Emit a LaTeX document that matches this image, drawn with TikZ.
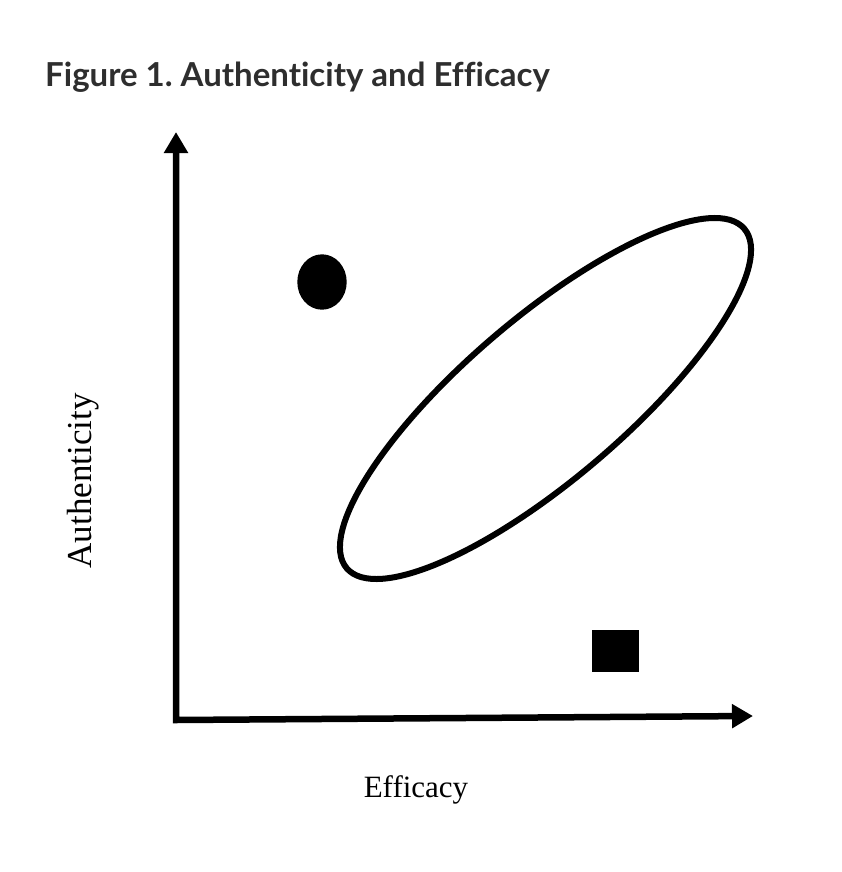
\documentclass[tikz,border=0pt]{standalone}
\usepackage{fontspec}
\setmainfont{Liberation Serif}
\newfontfamily\titlefont[Ligatures=NoCommon]{Lato}
\usepackage{xcolor}
\usetikzlibrary{arrows.meta}
\frenchspacing
\definecolor{ink}{HTML}{000000}
\definecolor{heading}{HTML}{2E2E2E}
\tikzset{
  axis/.style={draw=ink, line width=6.5pt, line join=miter,
    {Triangle[length=21pt,width=23pt]}-{Triangle[length=21pt,width=23pt]}},
  ring/.style={draw=ink, line width=6pt},
  blob/.style={fill=ink},
  lab/.style={text=ink, font=\fontsize{31}{36}\selectfont, inner sep=0pt},
  head/.style={text=heading, font=\titlefont\bfseries\fontsize{33}{38}\selectfont, inner sep=0pt},
}

\begin{document}
\begin{tikzpicture}[x=1pt,y=-1pt]
  \fill[white] (0,0) rectangle (842,872);
  \useasboundingbox (0,0) rectangle (842,872);
  % axes
  \coordinate (O) at (176,720);
  \coordinate (Ytip) at (176,132);
  \coordinate (Xtip) at (753,716);
  \draw[axis] (Ytip) -- (O) -- (Xtip);
  % marks
  \fill[blob] (322,282) ellipse [x radius=24.7, y radius=27.7];
  \fill[blob] (592,630) rectangle (639,672);
  \draw[ring] (545.5,398.5) ellipse [x radius=261.4, y radius=80.5, rotate=40.5];
  % texts
  \node[head, anchor=base west] (title) at (45,87) {Figure 1. Authenticity and Efficacy};
  \node[lab, font=\fontsize{35}{40}\selectfont, rotate=90, anchor=base] (ylab) at (91,481) {Authenticity};
  \node[lab, anchor=base] (xlab) at (416,797) {Efficacy};
\end{tikzpicture}
\end{document}
